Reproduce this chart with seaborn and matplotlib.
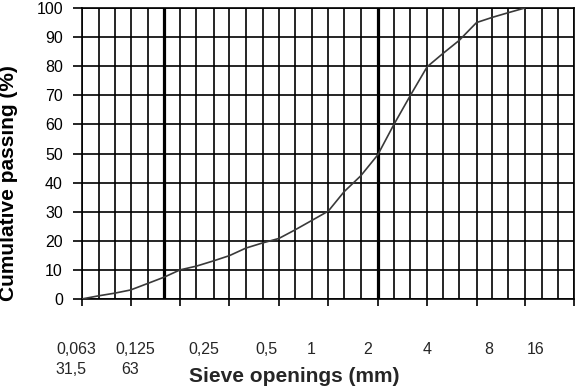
import matplotlib
matplotlib.use("Agg")
import matplotlib.pyplot as plt
import seaborn as sns
import pandas as pd

# ---- data ----
sieve_mm = [0.063, 0.08, 0.1, 0.125, 0.16, 0.2, 0.25, 0.315, 0.4, 0.5, 0.63, 0.8,
            1, 1.25, 1.6, 2, 2.5, 3.15, 4, 5, 6.3, 8, 10, 12.5, 16, 20, 25, 31.5]
passing = [0, 1.1, 2, 3.1, 5.4, 7.5, 10, 11.3, 13.1, 14.9, 17.5, 19.3,
           20.8, 23.7, 27.1, 30.2, 36.9, 42.3, 49.5, 59.8, 69.8, 79.8, 84.4, 88.8, 95, 96.8, 98.4, 100]
grid_mm = [0.063, 0.08, 0.1, 0.125, 0.16, 0.2, 0.25, 0.315, 0.4, 0.5, 0.63, 0.8,
           1, 1.25, 1.6, 2, 2.5, 3.15, 4, 5, 6.3, 8, 10, 12.5, 16, 20, 25, 31.5, 40, 50, 63]
major_mm = [0.063, 0.125, 0.25, 0.5, 1, 2, 4, 8, 16, 31.5, 63]
thick_mm = [0.2, 4]
label_line1 = ["0,063", "0,125", "0,25", "0,5", "1", "2", "4", "8", "16"]
label_line2 = ["31,5", "63"]
y_ticks = [0, 10, 20, 30, 40, 50, 60, 70, 80, 90, 100]

df = pd.DataFrame({"size": sieve_mm, "passing": passing})

sns.set_style("white")
plt.rcParams["font.family"] = ["Liberation Sans", "DejaVu Sans"]

W, H = 575, 387
AX_L, AX_R, AX_T, AX_B = 81.7, 574.3, 8, 299
fig = plt.figure(figsize=(W / 100, H / 100), dpi=100)
ax = fig.add_axes([AX_L / W, 1 - AX_B / H, (AX_R - AX_L) / W, (AX_B - AX_T) / H])

ax.set_xscale("log")
ax.set_xlim(0.063, 63)
ax.set_ylim(0, 100)

sns.lineplot(data=df, x="size", y="passing", ax=ax, color="#3a3a3a", lw=1.2, zorder=5)

grid_kw = dict(color="black", lw=1.2, zorder=2)
ax.set_xticks(grid_mm, minor=True)
ax.set_xticks(major_mm)
ax.set_xticklabels([])
ax.xaxis.set_minor_formatter(matplotlib.ticker.NullFormatter())
ax.grid(True, which="both", axis="x", **grid_kw)
ax.set_yticks(y_ticks)
ax.set_yticklabels([str(v) for v in y_ticks])
ax.grid(True, which="major", axis="y", **grid_kw)
for t in thick_mm:
    ax.axvline(t, color="black", lw=2.3, zorder=3)

for s in ax.spines.values():
    s.set_color("black")
    s.set_linewidth(1.2)

ax.tick_params(axis="x", which="major", direction="out", length=5, width=1.2,
               color="black", bottom=True)
ax.tick_params(axis="x", which="minor", length=0)
ax.tick_params(axis="y", direction="out", length=6.5, width=1.2, color="black",
               left=True, labelsize=11.5, pad=7, labelcolor="black")

ax.set_xlabel("")
ax.set_ylabel("Cumulative passing (%)", fontsize=15, fontweight="bold", color="black")
ax.yaxis.set_label_coords((18 - AX_L) / (AX_R - AX_L), (AX_B - 183.5) / (AX_B - AX_T))

# custom axis label text, placed as in the reference
line1_x = [76, 135.5, 204, 266, 311.5, 368, 427.5, 488.5, 536]
line2_x = [71, 130]
for lab, px in zip(label_line1, line1_x):
    fig.text(px / W, 1 - 350 / H, lab, ha="center", va="center", fontsize=11.5)
for lab, px in zip(label_line2, line2_x):
    fig.text(px / W, 1 - 370 / H, lab, ha="center", va="center", fontsize=11.5)
fig.text(294 / W, 1 - 377 / H, "Sieve openings (mm)", ha="center", va="center",
         fontsize=15, fontweight="bold")

fig.savefig("out.png", dpi=100, facecolor="white")
